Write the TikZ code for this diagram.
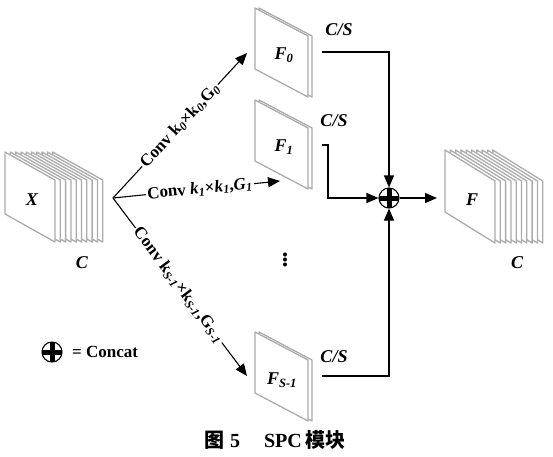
\documentclass[tikz,border=0pt]{standalone}
\usepackage{fontspec}
\setmainfont{Liberation Serif}
\newfontfamily\cjk{Noto Sans CJK SC}
\usetikzlibrary{arrows.meta}
\begin{document}
\begin{tikzpicture}[x=1pt,y=-1pt,
  layer/.style={fill=white,draw=gray!65,line width=1.3pt,line join=round},
  conn/.style={line width=1.1pt},
  arr/.style={conn,-{Triangle[length=12pt,width=10pt]}},
  lbl/.style={font=\fontsize{18}{20}\selectfont\bfseries\itshape,inner sep=0pt},
  conv/.style={font=\fontsize{17}{19}\selectfont\bfseries,fill=white,inner sep=1.5pt,sloped},
  catsym/.style={circle,draw,line width=1.1pt,minimum size=20pt,inner sep=0pt,
    path picture={\draw[line width=5pt] (path picture bounding box.north) -- (path picture bounding box.south);
                  \draw[line width=5pt] (path picture bounding box.west) -- (path picture bounding box.east);}}]
\useasboundingbox (0,0) rectangle (553,456);

% input stack X
\foreach \i in {9,8,...,0}{
  \draw[layer] ({5+5.3*\i},152) -- ++(50,28) -- ++(0,62) -- ++(-50,-28) -- cycle;
}
\node[lbl] (X) at (32,200) {X};
\node[lbl] (Cin) at (82,263) {C};

% output stack F
\foreach \i in {9,8,...,0}{
  \draw[layer] ({445+5.3*\i},150) -- ++(50,31) -- ++(0,62) -- ++(-50,-31) -- cycle;
}
\node[lbl] (F) at (472,200) {F};
\node[lbl] (Cout) at (517,263) {C};

% branch feature maps
\foreach \y in {8,100,332}{
  \draw[layer] (259,\y) -- ++(53,28) -- ++(0,61) -- ++(-53,-28) -- cycle;
  \draw[layer] (255,\y) -- ++(53,28) -- ++(0,61) -- ++(-53,-28) -- cycle;
}
\node[lbl] (F0) at (284,55) {F\textsubscript{0}};
\node[lbl] (F1) at (284,147) {F\textsubscript{1}};
\node[lbl] (FS) at (282,380) {F\textsubscript{S-1}};

\node[lbl] (cs0) at (339,30) {C/S};
\node[lbl] (cs1) at (334,121) {C/S};
\node[lbl] (cs2) at (334,357) {C/S};

\node[font=\fontsize{34}{36}\selectfont,inner sep=0pt] (dots) at (285,257) {$\vdots$};

% concat
\node[catsym] (cat) at (389,198) {};
\coordinate (f0out) at (322,52);
\coordinate (f1out) at (322,145);
\coordinate (fsout) at (322,376);
\coordinate (fin) at (437,198);
\draw[arr] (f0out) -| (cat.north);
\draw[arr] (f1out) -- ++(6,0) |- (cat.west);
\draw[arr] (fsout) -| (cat.south);
\draw[arr] (cat.east) -- (fin);

% branches
\coordinate (apex) at (113,198);
\coordinate (t0) at (247,53);
\coordinate (t1) at (280,181);
\coordinate (ts) at (247,376);
\draw[arr] (apex) -- node[conv,pos=0.5] (c0) {Conv k\textsubscript{\textit{0}}×k\textsubscript{\textit{0}},G\textsubscript{\textit{0}}} (t0);
\draw[arr] (apex) -- node[conv,pos=0.52] (c1) {Conv \textit{k\textsubscript{1}}×\textit{k\textsubscript{1}},\textit{G\textsubscript{1}}} (t1);
\draw[arr] (apex) -- node[conv,pos=0.49] (cs) {Conv k\textsubscript{\textit{S-1}}×k\textsubscript{\textit{S-1}},G\textsubscript{\textit{S-1}}} (ts);

% legend
\node[catsym] (leg) at (52,352) {};
\node[font=\fontsize{17}{19}\selectfont\bfseries,anchor=west,inner sep=0pt] (legtxt) at (72,352) {= Concat};

% caption
\node[font=\fontsize{20}{22}\selectfont\bfseries] (cap) at (275,440) {{\cjk 图}\hspace{6pt}5\hspace{24pt}SPC\hspace{4pt}{\cjk 模块}};
\end{tikzpicture}
\end{document}
